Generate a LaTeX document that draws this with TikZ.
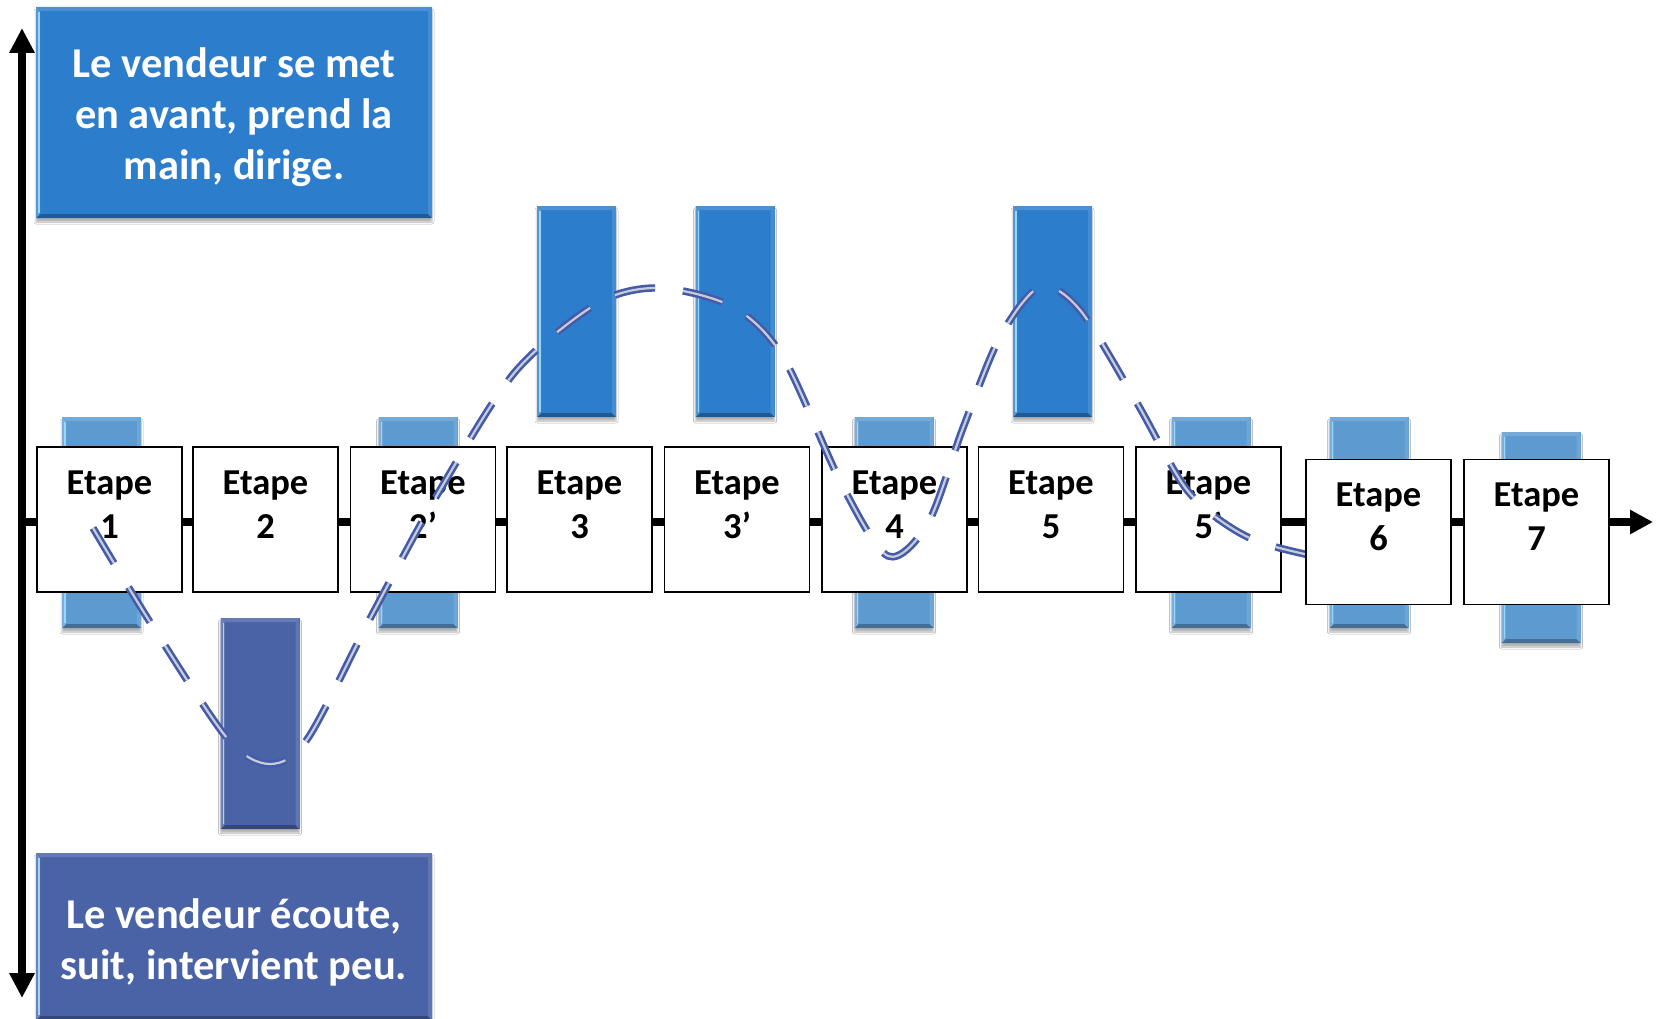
\documentclass[tikz,border=0pt]{standalone}
\usepackage{fontspec}
\setmainfont{Carlito}
\usetikzlibrary{arrows.meta,shadows.blur}

\definecolor{barlight}{RGB}{93,154,208}
\definecolor{barblue}{RGB}{44,125,204}
\definecolor{barindigo}{RGB}{74,99,167}
\definecolor{wavecol}{RGB}{68,92,168}
\definecolor{waveinner}{RGB}{200,203,216}
\definecolor{highlight}{RGB}{150,215,250}

\tikzset{
  % bevelled bar with a soft shadow
  bevel/.style={rectangle, inner sep=0pt, outer sep=0pt, fill=#1,
    blur shadow={shadow xshift=0pt, shadow yshift=-4pt, shadow blur radius=2pt, shadow opacity=30},
    path picture={
      \path (path picture bounding box.south west) coordinate (pSW)
            (path picture bounding box.south east) coordinate (pSE)
            (path picture bounding box.north east) coordinate (pNE)
            (path picture bounding box.north west) coordinate (pNW);
      \fill[#1!72!black] (pSW) -- (pSE) -- ([shift={(-4pt,4pt)}]pSE) -- ([shift={(4pt,4pt)}]pSW) -- cycle;
      \fill[#1!80!white] (pSW) -- ([shift={(4pt,4pt)}]pSW) -- ([shift={(4pt,-4pt)}]pNW) -- (pNW) -- cycle;
      \fill[#1!88!white] (pSE) -- (pNE) -- ([shift={(-4pt,-4pt)}]pNE) -- ([shift={(-4pt,4pt)}]pSE) -- cycle;
      \fill[#1!85!white] (pNW) -- (pNE) -- ([shift={(-4pt,-4pt)}]pNE) -- ([shift={(4pt,-4pt)}]pNW) -- cycle;
      \draw[highlight, line width=1.4pt] ([shift={(3pt,-5pt)}]pNW) -- ([shift={(3pt,5pt)}]pSW);
    }},
  barnode/.style={bevel=#1, minimum width=79pt, minimum height=211pt},
  stepbox/.style={draw=black, line width=1.5pt, fill=white, minimum width=145pt, minimum height=145pt, inner sep=0pt},
  steptext/.style={font=\fontsize{36.5}{44}\selectfont\bfseries, align=center, inner sep=0pt, anchor=north},
  infotext/.style={text=white, font=\fontsize{42.5}{51}\selectfont\bfseries, align=center},
  axis/.style={line width=8pt, draw=black},
  wave/.style={draw=wavecol, line width=2.6pt, double=waveinner, double distance=2.2pt,
    dash pattern=on 41pt off 28pt},
}

\begin{document}
\begin{tikzpicture}[x=1pt, y=-1pt]
\useasboundingbox (0,0) rectangle (1661,1019);
\fill[white] (0,0) rectangle (1661,1019);

% axes
\coordinate (vtop) at (22,28);
\coordinate (vbot) at (22,998);
\draw[axis, {Triangle[length=25pt,width=24pt]}-{Triangle[length=25pt,width=24pt]}] (vtop) -- (vbot);
\coordinate (hstart) at (22,522);
\coordinate (hend) at (1653,522);
\draw[axis, -{Triangle[length=23pt,width=23pt]}] (hstart) -- (hend);

% bars
\node[barnode=barlight]  (b1)  at (101.5,522.5) {};
\node[barnode=barindigo] (b2)  at (260,723.5) {};
\node[barnode=barlight]  (b2p) at (418,522.5) {};
\node[barnode=barblue]   (b3)  at (576.5,311.5) {};
\node[barnode=barblue]   (b3p) at (735,311.5) {};
\node[barnode=barlight]  (b4)  at (894,522.5) {};
\node[barnode=barblue]   (b5)  at (1052.5,311.5) {};
\node[barnode=barlight]  (b5p) at (1211,522.5) {};
\node[barnode=barlight]  (b6)  at (1369,522.5) {};
\node[barnode=barlight]  (b7)  at (1541,537.5) {};

% legend boxes
\node[bevel=barblue, minimum width=396pt, minimum height=211pt] (lead) at (234,112.5) {};
\node[infotext] (leadt) at ([yshift=-4.5pt]lead.center)
  {Le vendeur se met\\en avant, prend la\\main, dirige.};
\node[bevel=barindigo, minimum width=396pt, minimum height=167pt] (follow) at (234,936.5) {};
\node[infotext] (followt) at ([yshift=-6pt]follow.center)
  {Le vendeur écoute,\\suit, intervient peu.};

% steps
\node[stepbox] (e1)  at (109.5,519.5) {};
\node[steptext] (e1t) at ([yshift=-24pt]e1.north) {Etape\\1};
\node[stepbox] (e2)  at (265.5,519.5) {};
\node[steptext] (e2t) at ([yshift=-24pt]e2.north) {Etape\\2};
\node[stepbox] (e2p) at (423,519.5) {};
\node[steptext] (e2pt) at ([yshift=-24pt]e2p.north) {Etape\\2’};
\node[stepbox] (e3)  at (579.5,519.5) {};
\node[steptext] (e3t) at ([yshift=-24pt]e3.north) {Etape\\3};
\node[stepbox] (e3p) at (737,519.5) {};
\node[steptext] (e3pt) at ([yshift=-24pt]e3p.north) {Etape\\3’};
\node[stepbox] (e4)  at (894.5,519.5) {};
\node[steptext] (e4t) at ([yshift=-24pt]e4.north) {Etape\\4};
\node[stepbox] (e5)  at (1051,519.5) {};
\node[steptext] (e5t) at ([yshift=-24pt]e5.north) {Etape\\5};
\node[stepbox] (e5p) at (1208.5,519.5) {};
\node[steptext] (e5pt) at ([yshift=-24pt]e5p.north) {Etape\\5’};

% the seller's path
\draw[wave] plot[smooth, tension=0.5] coordinates {
  (93,528) (150,622) (227,738) (270,764) (308,738) (373,613) (440,490) (515,372)
  (598,303) (660,288) (733,307) (783,357) (842,485) (888,556) (928,523) (963,428)
  (1000,337) (1040,287) (1080,310) (1137,403) (1187,490) (1240,533) (1300,553) (1470,586)};

% last steps lie over the path
\node[stepbox] (e6)  at (1378.5,532) {};
\node[steptext] (e6t) at ([yshift=-24pt]e6.north) {Etape\\6};
\node[stepbox] (e7)  at (1536.5,532) {};
\node[steptext] (e7t) at ([yshift=-24pt]e7.north) {Etape\\7};
\end{tikzpicture}
\end{document}
